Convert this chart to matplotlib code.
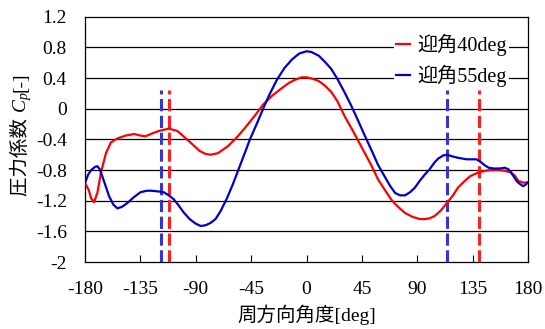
import numpy as np
import matplotlib
matplotlib.use('Agg')
import matplotlib.pyplot as plt

plt.rcParams['font.family'] = ['Liberation Serif', 'Noto Sans CJK JP']
plt.rcParams['mathtext.fontset'] = 'custom'
plt.rcParams['mathtext.rm'] = 'Liberation Serif'
plt.rcParams['mathtext.it'] = 'Liberation Serif:italic'

# Cp distribution, angle of attack 40 deg
angle_40 = [-180, -177, -175, -172.7, -170, -167, -163, -159, -154, -147, -140, -135,
            -131, -125, -120, -112, -105, -100, -93, -87, -82, -78, -72, -64, -57,
            -50, -42, -35, -28, -20, -14, -9, -4, 0, 5, 10, 15, 20, 25, 31, 37, 42,
            48, 53, 58, 64, 69, 75, 80, 86, 92, 96, 100, 104, 109, 114, 119, 123,
            128, 133, 137, 140, 145, 150, 156, 161, 166, 169, 172, 176, 180]
cp_40 = [-0.97, -1.06, -1.17, -1.22, -1.10, -0.83, -0.58, -0.44, -0.39, -0.35, -0.33,
         -0.35, -0.36, -0.32, -0.29, -0.26, -0.29, -0.36, -0.46, -0.55, -0.59, -0.60,
         -0.58, -0.49, -0.38, -0.25, -0.09, 0.06, 0.17, 0.27, 0.34, 0.38, 0.41, 0.41,
         0.39, 0.36, 0.30, 0.22, 0.10, -0.10, -0.27, -0.42, -0.60, -0.75, -0.92,
         -1.07, -1.19, -1.29, -1.36, -1.41, -1.44, -1.44, -1.43, -1.40, -1.33, -1.23,
         -1.13, -1.03, -0.95, -0.88, -0.85, -0.83, -0.81, -0.80, -0.80, -0.81, -0.83,
         -0.87, -0.94, -0.965, -0.96]

# Cp distribution, angle of attack 55 deg
angle_55 = [-180, -177.5, -175, -172, -170, -168, -166, -163, -160.5, -157, -153.7,
            -150, -145.6, -140, -135, -130, -126, -120, -116, -112, -108, -104, -100,
            -95, -90, -86, -82, -78, -74, -70, -65, -60, -55, -50, -46, -40, -35, -30,
            -24, -18, -12, -6, 0, 4, 10, 15, 20, 25, 31, 36, 42, 47, 53, 58, 64, 68,
            72, 76, 80, 84, 88, 92, 96, 100, 104, 107, 111, 114, 118, 123, 130, 138,
            141, 145, 148, 152, 157, 161, 164, 166, 169, 171, 174, 176, 178, 180]
cp_55 = [-0.97, -0.86, -0.80, -0.76, -0.75, -0.79, -0.88, -1.02, -1.14, -1.25, -1.30,
         -1.28, -1.23, -1.15, -1.09, -1.07, -1.07, -1.08, -1.09, -1.13, -1.18, -1.26,
         -1.35, -1.44, -1.50, -1.53, -1.52, -1.49, -1.44, -1.34, -1.18, -0.99, -0.78,
         -0.57, -0.40, -0.18, 0.01, 0.19, 0.38, 0.53, 0.64, 0.72, 0.75, 0.74, 0.69,
         0.61, 0.52, 0.39, 0.21, 0.05, -0.16, -0.34, -0.55, -0.73, -0.90, -1.01,
         -1.10, -1.13, -1.13, -1.09, -1.03, -0.94, -0.86, -0.79, -0.70, -0.65, -0.61,
         -0.60, -0.62, -0.64, -0.66, -0.66, -0.69, -0.74, -0.77, -0.78, -0.78, -0.77,
         -0.79, -0.83, -0.90, -0.95, -0.99, -1.01, -0.99, -0.96]

# separation angles (dashed markers)
sep_40 = [-112, 140]
sep_55 = [-118, 114]
sep_top = 0.25

yticks = [1.2, 0.8, 0.4, 0, -0.4, -0.8, -1.2, -1.6, -2]
ytick_labels = ['1.2', '0.8', '0.4', '0', '-0.4', '-0.8', '-1.2', '-1.6', '-2']
xticks = [-180, -135, -90, -45, 0, 45, 90, 135, 180]
xtick_labels = ['-180', '-135', '-90', '-45', '0', '45', '90', '135', '180']

fig = plt.figure(figsize=(5.45, 3.29), dpi=100)
ax = fig.add_axes([0.156, 0.2036, 0.813, 0.7455])

for y in yticks[1:-1]:
	ax.axhline(y, color='black', lw=0.9, zorder=1)

for x in sep_55:
	ax.plot([x, x], [-2, sep_top], color='#3535d0', lw=2.2, dashes=(4, 1.5), zorder=3)
for x in sep_40:
	ax.plot([x, x], [-2, sep_top], color='#ff2020', lw=2.2, dashes=(4, 1.5), zorder=3)

ax.plot(angle_40, cp_40, color='#ff0000', lw=1.6, label='迎角40deg', zorder=4)
ax.plot(angle_55, cp_55, color='#0000c8', lw=1.6, label='迎角55deg', zorder=4)

ax.set_xlim(-180, 180)
ax.set_ylim(-2, 1.2)
ax.set_xticks(xticks)
ax.set_xticklabels(xtick_labels, fontsize=14)
ax.set_yticks(yticks)
ax.set_yticklabels(ytick_labels, fontsize=14)
ax.tick_params(axis='x', direction='in', length=5, width=0.8, top=False, pad=14)
ax.tick_params(axis='y', length=0, pad=13)
for s in ax.spines.values():
	s.set_linewidth(0.9)

ax.set_xlabel('周方向角度[deg]', fontsize=14)
ax.xaxis.set_label_coords(0.5, -0.175)

leg = ax.legend(loc='upper right', bbox_to_anchor=(0.957, 0.94), fontsize=14.5,
				handlelength=0.7, handletextpad=0.35, borderpad=0.1,
				labelspacing=0.45, borderaxespad=0, frameon=True, fancybox=False)
leg.get_frame().set_facecolor('white')
leg.get_frame().set_edgecolor('none')
leg.get_frame().set_alpha(1)
leg.set_zorder(5)

# y label built from pieces so the CJK part keeps its font fallback
fig.canvas.draw()
renderer = fig.canvas.get_renderer()
W, H = fig.bbox.width, fig.bbox.height
base_x = 26 / W
y_pos = (H - 196) / H
for piece in ['圧力係数 ', '$C_p$', '[-]']:
	t = fig.text(base_x, y_pos, piece, rotation=90, rotation_mode='anchor',
				 ha='left', va='baseline', fontsize=14)
	ext = t.get_window_extent(renderer)
	y_pos = ext.y1 / H

plt.savefig('out.png', dpi=100)
